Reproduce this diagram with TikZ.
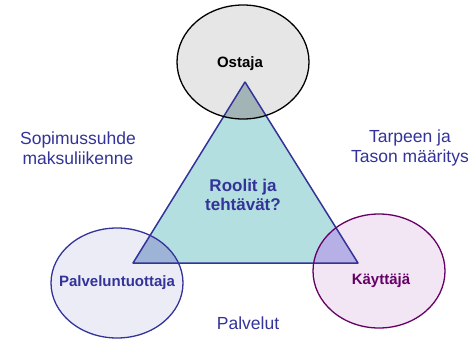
\documentclass[tikz,border=0pt]{standalone}
\usepackage{fontspec}
\setmainfont{Liberation Sans}
\usetikzlibrary{positioning}
\definecolor{triblue}{HTML}{333399}
\definecolor{trifill}{HTML}{B4DFE0}
\definecolor{userpurple}{HTML}{660066}
\definecolor{buyerfill}{HTML}{E6E6E6}
\definecolor{providerfill}{HTML}{ECECF7}
\definecolor{userfill}{HTML}{F2E6F4}
\definecolor{buyermix}{HTML}{A3B4B6}
\definecolor{providermix}{HTML}{9EB4D6}
\definecolor{usermix}{HTML}{B6B0E6}
\tikzset{
  sidetext/.style={align=center, text=triblue, font=\fontsize{17.5}{20}\selectfont},
  roletext/.style={align=center, text=triblue, font=\fontsize{17}{19}\selectfont\bfseries},
  roletitle/.style={font=\fontsize{15}{17}\selectfont\bfseries}
}

\begin{document}
\begin{tikzpicture}[x=1pt,y=-1pt]
\useasboundingbox (0,0) rectangle (473,340);
\coordinate (apex) at (245,82);
\coordinate (baseleft) at (133,263);
\coordinate (baseright) at (358,263);
% role ellipses
\fill[buyerfill] (243,62) ellipse [x radius=66, y radius=57];
\fill[providerfill] (117,283) ellipse [x radius=66, y radius=55];
\fill[userfill] (379,271) ellipse [x radius=66, y radius=57];
% triangle
\fill[trifill] (apex) -- (baseleft) -- (baseright) -- cycle;
\begin{scope}
\clip (243,62) ellipse [x radius=66, y radius=57];
\fill[buyermix] (apex) -- (baseleft) -- (baseright) -- cycle;
\end{scope}
\begin{scope}
\clip (117,283) ellipse [x radius=66, y radius=55];
\fill[providermix] (apex) -- (baseleft) -- (baseright) -- cycle;
\end{scope}
\begin{scope}
\clip (379,271) ellipse [x radius=66, y radius=57];
\fill[usermix] (apex) -- (baseleft) -- (baseright) -- cycle;
\end{scope}
\draw[triblue,line width=1.5pt,line join=round] (apex) -- (baseleft) -- (baseright) -- cycle;
\draw[black,line width=1.3pt] (243,62) ellipse [x radius=66, y radius=57];
\draw[triblue,line width=1.3pt] (117,283) ellipse [x radius=66, y radius=55];
\draw[userpurple,line width=1.3pt] (379,271) ellipse [x radius=66, y radius=57];
% labels
\node[roletitle] (buyer) at (240,64) {Ostaja};
\node[roletitle, text=triblue] (provider) at (117,283) {Palveluntuottaja};
\node[roletitle, text=userpurple] (user) at (381,281) {Käyttäjä};
\node[roletext] (roles) at (243,195) {Roolit ja\\tehtävät?};
\node[sidetext] (contract) at (78,148) {Sopimussuhde\\maksuliikenne};
\node[sidetext] (needs) at (410,148) {Tarpeen ja\\Tason määritys};
\node[sidetext] (services) at (248,323) {Palvelut};
\end{tikzpicture}
\end{document}
